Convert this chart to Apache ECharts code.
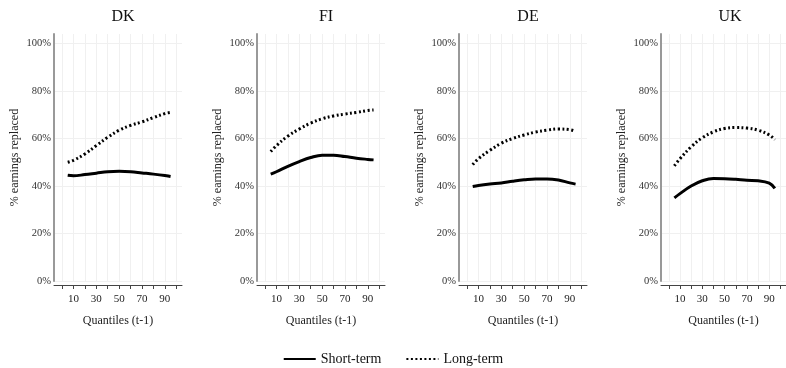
<!DOCTYPE html>
<html>
<head>
<meta charset="utf-8">
<script src="https://cdn.jsdelivr.net/npm/echarts@6/dist/echarts.min.js"></script>
<style>
  html, body { margin: 0; padding: 0; background: #fff; }
  #main { width: 786px; height: 368px; }
</style>
</head>
<body>
<div id="main"></div>
<script>
// quantile positions and country panels
var quantiles = [5, 10, 20, 30, 40, 50, 60, 70, 80, 90, 95];
var countries = ['DK', 'FI', 'DE', 'UK'];

// % of earnings replaced
var shortDK = [44.5, 44.3, 44.8, 45.4, 46.0, 46.2, 46.0, 45.5, 45.0, 44.4, 44.0];
var longDK  = [50.0, 50.8, 53.5, 57.0, 60.5, 63.5, 65.5, 67.0, 68.8, 70.5, 71.0];
var shortFI = [45.0, 46.0, 48.3, 50.3, 52.0, 53.0, 53.0, 52.4, 51.7, 51.2, 51.0];
var longFI  = [54.5, 57.0, 61.0, 64.0, 66.5, 68.3, 69.5, 70.3, 71.0, 71.8, 72.0];
var shortDE = [39.8, 40.2, 40.8, 41.3, 42.0, 42.6, 43.0, 43.0, 42.5, 41.3, 40.8];
var longDE  = [49.0, 51.5, 55.0, 58.0, 60.0, 61.5, 62.7, 63.5, 64.0, 63.7, 63.0];
var shortUK = [35.0, 36.8, 40.0, 42.2, 43.2, 43.1, 42.8, 42.4, 42.2, 41.2, 39.0];
var longUK  = [48.5, 51.5, 56.5, 60.3, 62.8, 64.2, 64.6, 64.4, 63.5, 61.5, 59.5];

var shortAll = [shortDK, shortFI, shortDE, shortUK];
var longAll = [longDK, longFI, longDE, longUK];

var xTicks = [0, 10, 20, 30, 40, 50, 60, 70, 80, 90, 100];
var xLabels = [10, 30, 50, 70, 90];

var FONT = 'Liberation Serif';
var lefts = [54, 257, 459, 661];

function pairs(ys) {
  var out = [];
  for (var i = 0; i < quantiles.length; i++) out.push([quantiles[i], ys[i]]);
  return out;
}

var grids = [], xAxes = [], yAxes = [], series = [], titles = [];
for (var i = 0; i < countries.length; i++) {
  grids.push({ left: lefts[i], width: 128, top: 34, height: 247 });
  titles.push({
    text: countries[i], left: lefts[i] + 64, top: 4, textAlign: 'center',
    textStyle: { fontFamily: FONT, fontSize: 16, fontWeight: 'normal', color: '#111' }
  });
  xAxes.push({
    type: 'value', gridIndex: i, min: -7, max: 105, offset: 4,
    name: 'Quantiles (t-1)', nameLocation: 'middle', nameGap: 30,
    nameTextStyle: { fontFamily: FONT, fontSize: 12, color: '#222' },
    axisLine: { onZero: false, lineStyle: { color: '#444', width: 1 } },
    axisTick: { customValues: xTicks, length: 4, lineStyle: { color: '#444' } },
    axisLabel: { customValues: xLabels, fontFamily: FONT, fontSize: 11, color: '#222', margin: 9 },
    splitLine: { show: true, lineStyle: { color: '#f0f0f0', width: 1 } }
  });
  yAxes.push({
    type: 'value', gridIndex: i, min: 0, max: 104, interval: 20,
    name: '% earnings replaced', nameLocation: 'middle', nameGap: 33,
    nameTextStyle: { fontFamily: FONT, fontSize: 12, color: '#222' },
    axisLine: { show: true, onZero: false, lineStyle: { color: '#999', width: 2 } },
    axisTick: { show: false },
    axisLabel: {
      fontFamily: FONT, fontSize: 10.5, color: '#333', margin: 3, showMaxLabel: false,
      formatter: function (v) { return v > 100 ? '' : v + '%'; }
    },
    splitLine: { show: true, showMaxLine: false, lineStyle: { color: '#f0f0f0', width: 1 } }
  });
  series.push({
    name: 'Short-term', type: 'line', xAxisIndex: i, yAxisIndex: i,
    data: pairs(shortAll[i]), smooth: 0.4, symbol: 'none',
    lineStyle: { color: '#000', width: 3 }, itemStyle: { color: '#000' }
  });
  series.push({
    name: 'Long-term', type: 'line', xAxisIndex: i, yAxisIndex: i,
    data: pairs(longAll[i]), smooth: 0.4, symbol: 'none',
    lineStyle: { color: '#000', width: 3, type: [2, 2.5] }, itemStyle: { color: '#000' }
  });
}

var chart = echarts.init(document.getElementById('main'), null, { renderer: 'canvas' });
chart.setOption({
  animation: false,
  backgroundColor: '#fff',
  title: titles,
  grid: grids,
  xAxis: xAxes,
  yAxis: yAxes,
  legend: {
    data: ['Short-term', 'Long-term'],
    top: 347, left: 'center', itemWidth: 32, itemHeight: 12, itemGap: 24,
    itemStyle: { opacity: 0 },
    textStyle: { fontFamily: FONT, fontSize: 14, color: '#111' }
  },
  series: series
});
</script>
</body>
</html>
